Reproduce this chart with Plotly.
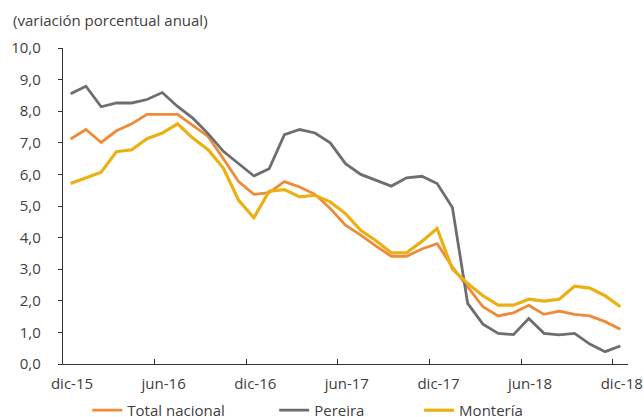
import plotly.graph_objects as go

# Monthly categories dic-15 ... dic-18 (37 months)
months = ["dic-15", "ene-16", "feb-16", "mar-16", "abr-16", "may-16", "jun-16", "jul-16", "ago-16",
          "sep-16", "oct-16", "nov-16", "dic-16", "ene-17", "feb-17", "mar-17", "abr-17", "may-17",
          "jun-17", "jul-17", "ago-17", "sep-17", "oct-17", "nov-17", "dic-17", "ene-18", "feb-18",
          "mar-18", "abr-18", "may-18", "jun-18", "jul-18", "ago-18", "sep-18", "oct-18", "nov-18",
          "dic-18"]
tick_labels = ["dic-15", "jun-16", "dic-16", "jun-17", "dic-17", "jun-18", "dic-18"]

total_nacional = [7.12, 7.42, 7.01, 7.38, 7.60, 7.90, 7.90, 7.90, 7.55, 7.20, 6.50, 5.77, 5.37,
                  5.42, 5.77, 5.60, 5.37, 4.92, 4.39, 4.08, 3.73, 3.41, 3.41, 3.64, 3.81, 3.07,
                  2.44, 1.81, 1.52, 1.62, 1.86, 1.57, 1.67, 1.57, 1.52, 1.34, 1.10]
pereira = [8.55, 8.79, 8.14, 8.26, 8.26, 8.37, 8.59, 8.15, 7.78, 7.29, 6.73, 6.34, 5.95,
           6.18, 7.26, 7.42, 7.31, 7.00, 6.34, 6.00, 5.81, 5.63, 5.89, 5.94, 5.71, 4.95,
           1.92, 1.26, 0.97, 0.93, 1.44, 0.97, 0.92, 0.97, 0.63, 0.39, 0.57]
monteria = [5.71, 5.90, 6.07, 6.72, 6.78, 7.13, 7.31, 7.60, 7.15, 6.78, 6.20, 5.18, 4.63,
            5.47, 5.52, 5.29, 5.34, 5.13, 4.76, 4.23, 3.90, 3.52, 3.52, 3.88, 4.29, 3.00,
            2.55, 2.16, 1.86, 1.86, 2.05, 1.99, 2.05, 2.46, 2.40, 2.16, 1.81]

W, H = 644, 417
L, R, T, B = 62.7, 16, 47.7, 53
PW, PH = W - L - R, H - T - B
FONT = "Open Sans"
TXT = "#404040"
FS = 15

def px_x(px):
    return (px - L) / PW

def px_y(py):
    return (H - B - py) / PH

x = list(range(len(months)))
tick_pos = [months.index(t) - 0.5 for t in tick_labels]

fig = go.Figure()
series = [
    ("Total nacional", total_nacional, "#EE8A38", 2.8, "legend"),
    ("Pereira", pereira, "#6E6E70", 2.8, "legend2"),
    ("Montería", monteria, "#EBB014", 3.2, "legend3"),
]
for name, vals, col, w, lg in series:
    fig.add_trace(go.Scatter(x=x, y=vals, mode="lines", name=name, showlegend=True,
                             line=dict(color=col, width=w), legend=lg,
                             customdata=months, hovertemplate="%{customdata}: %{y}<extra>" + name + "</extra>"))

legend_common = dict(orientation="h", xref="paper", yref="paper", yanchor="middle",
                     xanchor="left", y=px_y(410.5), font=dict(family=FONT, size=FS, color=TXT),
                     bgcolor="rgba(0,0,0,0)", borderwidth=0)

fig.update_layout(
    width=W, height=H,
    showlegend=True,
    margin=dict(l=L, r=R, t=T, b=B, autoexpand=False),
    paper_bgcolor="white", plot_bgcolor="white",
    separators=",.",
    font=dict(family=FONT, size=FS, color=TXT),
    xaxis=dict(range=[-0.5, len(months) - 0.5], tickmode="array", tickvals=tick_pos,
               ticktext=tick_labels, ticks="inside", ticklen=5, tickcolor="#333333",
               ticklabelshift=9, ticklabelstandoff=6, showline=True, linecolor="#333333",
               linewidth=1.3, showgrid=False, zeroline=False,
               tickfont=dict(family=FONT, size=FS, color=TXT)),
    yaxis=dict(range=[0, 10], dtick=1, tick0=0, tickformat=".1f", ticks="outside", ticklen=4,
               tickcolor="#333333", showline=True, linecolor="#333333", linewidth=1.3,
               showgrid=False, zeroline=False, ticklabelstandoff=14,
               tickfont=dict(family=FONT, size=FS, color=TXT)),
    legend=dict(legend_common, x=px_x(90 - 3), visible=True),
    legend2=dict(legend_common, x=px_x(277 - 3), visible=True),
    legend3=dict(legend_common, x=px_x(422 - 3), visible=True),
    annotations=[dict(text="(variación porcentual anual)", xref="paper", yref="paper",
                      x=px_x(11), y=px_y(20),
                      xanchor="left", yanchor="middle", showarrow=False,
                      font=dict(family=FONT, size=FS, color=TXT))],
)

fig.write_html("out.html", config={"displayModeBar": False},
               post_script="document.body.style.margin='0';document.body.style.overflow='hidden';")
